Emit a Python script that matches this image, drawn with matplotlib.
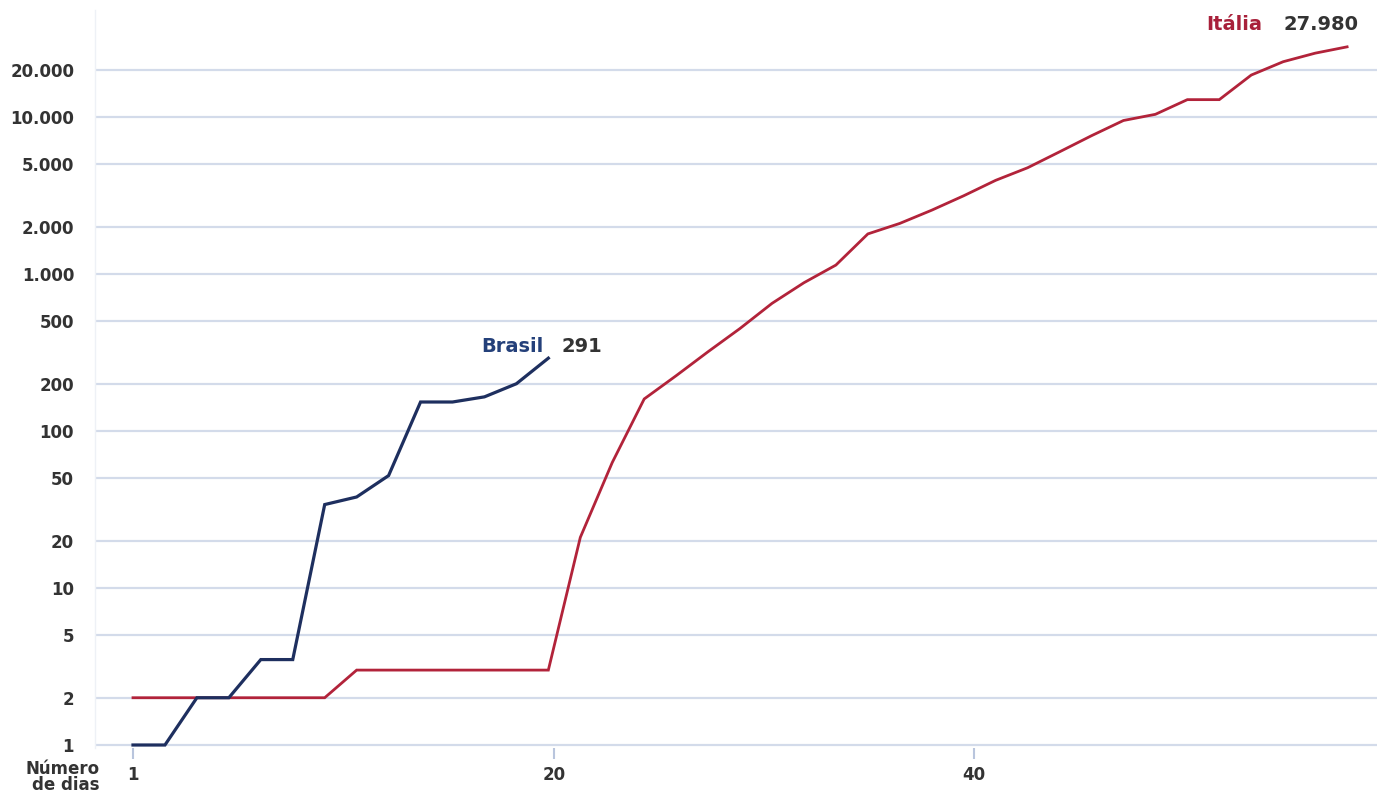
import numpy as np
import matplotlib.pyplot as plt
from matplotlib.ticker import FixedLocator, NullLocator

# casos confirmados por registro
brasil_casos = [1, 1, 2, 2, 3.5, 3.5, 34, 38, 52, 153, 153, 165, 200, 291]
italia_casos = [2, 2, 2, 2, 2, 2, 2,
                3, 3, 3, 3, 3, 3, 3,
                21, 63, 160, 225, 320, 450, 650, 880, 1140, 1800,
                2100, 2550, 3150, 3950, 4750, 6000, 7600, 9500, 10400,
                12900, 12900, 18500, 22500, 25500, 27980]

y_ticks = [1, 2, 5, 10, 20, 50, 100, 200, 500, 1000, 2000, 5000, 10000, 20000]
y_labels = ['1', '2', '5', '10', '20', '50', '100', '200', '500',
            '1.000', '2.000', '5.000', '10.000', '20.000']
x_labels = ['1', '20', '40']
x_label_pos = [0, 13.18, 26.32]

AZUL = '#1e2f5f'
VERMELHO = '#b2233a'
GRADE = '#d3dbea'
TEXTO = '#333333'

W, H = 1382, 794
fig = plt.figure(figsize=(W / 100, H / 100), dpi=100)
# axes placed in pixel terms: left 95, right 1377, bottom 748, top 10
ax = fig.add_axes([95 / W, 1 - 748 / H, (1377 - 95) / W, (748 - 10) / H])

px_dia = 31.95
px_dec = 157.0
ax.set_xlim((95 - 133) / px_dia, (1377 - 133) / px_dia)
ax.set_yscale('log')
ax.set_ylim(10 ** (-3 / px_dec), 10 ** (735 / px_dec))

ax.plot(np.arange(len(italia_casos)), italia_casos, color=VERMELHO, lw=2.0,
        solid_joinstyle='miter', clip_on=False, zorder=3)
ax.plot(np.arange(len(brasil_casos)), brasil_casos, color=AZUL, lw=2.3,
        solid_joinstyle='miter', clip_on=False, zorder=4)

ax.yaxis.set_major_locator(FixedLocator(y_ticks))
ax.yaxis.set_minor_locator(NullLocator())
ax.set_yticklabels(y_labels)
ax.set_xticks(x_label_pos)
ax.set_xticklabels(x_labels)
ax.xaxis.set_minor_locator(NullLocator())

ax.yaxis.grid(True, color=GRADE, lw=1.6, zorder=0)
ax.set_axisbelow(True)
for s in ['top', 'right', 'bottom']:
    ax.spines[s].set_visible(False)
ax.spines['left'].set_color('#eef1f6')
ax.spines['left'].set_linewidth(1.0)

ax.tick_params(axis='y', length=0, pad=15, labelsize=12, labelcolor=TEXTO)
ax.tick_params(axis='x', length=8, width=1.5, color='#b9c5dd', pad=5,
               labelsize=12, labelcolor=TEXTO)
for t in ax.get_yticklabels() + ax.get_xticklabels():
    t.set_fontweight('bold')

fig.text(100 / W, 1 - 777 / H, 'Número\nde dias', ha='right', va='center',
         multialignment='right', fontsize=12, fontweight='bold',
         color=TEXTO, linespacing=0.85)

# rótulos no fim das linhas
ax.annotate('Brasil', (len(brasil_casos) - 1, brasil_casos[-1]),
            xytext=(-5, 12), textcoords='offset pixels', ha='right',
            va='center', fontsize=14, fontweight='bold', color='#24407a')
ax.annotate(f'{brasil_casos[-1]}', (len(brasil_casos) - 1, brasil_casos[-1]),
            xytext=(13, 12), textcoords='offset pixels', ha='left',
            va='center', fontsize=14, fontweight='bold', color=TEXTO)
ax.annotate('Itália', (len(italia_casos) - 1, italia_casos[-1]),
            xytext=(-85, 22), textcoords='offset pixels', ha='right',
            va='center', fontsize=14, fontweight='bold', color='#a8203a')
ax.annotate(f'{italia_casos[-1]:,}'.replace(',', '.'),
            (len(italia_casos) - 1, italia_casos[-1]),
            xytext=(-64, 22), textcoords='offset pixels', ha='left',
            va='center', fontsize=14, fontweight='bold', color=TEXTO)

fig.savefig('out.png', dpi=100, facecolor='white')
